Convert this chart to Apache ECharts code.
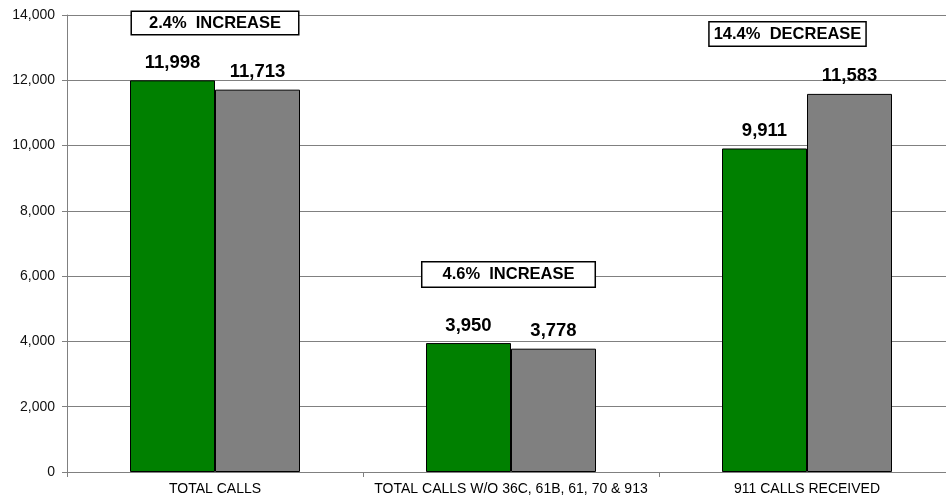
<!DOCTYPE html>
<html><head><meta charset="utf-8">
<script src="https://cdn.jsdelivr.net/npm/echarts@6/dist/echarts.min.js"></script>
<style>html,body{margin:0;padding:0;background:#fff;overflow:hidden}#c{width:955px;height:498px}</style>
</head><body><div id="c"></div>
<script>
const categories = ['TOTAL CALLS', 'TOTAL CALLS W/O 36C, 61B, 61, 70 & 913', '911 CALLS RECEIVED'];
const greenValues = [11998, 3950, 9911];
const grayValues = [11713, 3778, 11583];
const yTicks = [0, 2000, 4000, 6000, 8000, 10000, 12000, 14000];
const notes = ['2.4%  INCREASE', '4.6%  INCREASE', '14.4%  DECREASE'];
const noteValues = [13755, 6050, 13418];

const fmt = v => v.toLocaleString('en-US');
const chart = echarts.init(document.getElementById('c'));
const noteStyles = [
  {offset: [0, 0], padding: [3, 17, 2, 17]},
  {offset: [-2.5, 0], padding: [4, 20, 3, 20]},
  {offset: [-19.5, 0], padding: [3, 4, 3, 4]}
];
const valueLabel = {show: true, position: 'top', distance: 8, color: '#000', fontWeight: 'bold', fontSize: 18.5,
  fontFamily: 'Liberation Sans, Arial, sans-serif', formatter: p => fmt(p.value)};
chart.setOption({
  animation: false,
  grid: {left: 67, right: 0, top: 15, bottom: 26},
  xAxis: {
    type: 'category', data: categories,
    axisLine: {lineStyle: {color: '#808080'}},
    axisTick: {show: true, length: 5, lineStyle: {color: '#808080'}},
    axisLabel: {interval: 0, color: '#000', fontFamily: 'Liberation Sans Narrow, Arial Narrow, Liberation Sans, sans-serif', fontSize: 14, margin: 10}
  },
  yAxis: {
    type: 'value', min: yTicks[0], max: yTicks[yTicks.length-1], interval: 2000,
    axisLine: {show: true, lineStyle: {color: '#808080'}},
    axisTick: {show: true, length: 5, lineStyle: {color: '#808080'}},
    splitLine: {lineStyle: {color: '#808080', width: 1}},
    axisLabel: {color: '#111', fontFamily: 'Liberation Sans, Arial, sans-serif', fontSize: 14, margin: 12, formatter: v => fmt(v)}
  },
  series: [
    {type: 'bar', data: greenValues, barWidth: 85, barGap: '0%',
     itemStyle: {color: '#008000', borderColor: '#000', borderWidth: 1},
     label: valueLabel},
    {type: 'bar', data: grayValues, barWidth: 85,
     itemStyle: {color: '#808080', borderColor: '#000', borderWidth: 1},
     label: valueLabel},
    {type: 'scatter', symbolSize: 0, z: 10, silent: true,
     data: noteValues.map((v, i) => ({value: [i, v], name: notes[i], label: noteStyles[i]})),
     label: {show: true, position: 'inside', formatter: p => p.name, color: '#000', opacity: 1, textBorderWidth: 0,
             fontWeight: 'bold', fontSize: 16.5,
             fontFamily: 'Liberation Sans, Arial, sans-serif', backgroundColor: '#fff', borderColor: '#000', borderWidth: 1.5}}
  ]
});
</script></body></html>
